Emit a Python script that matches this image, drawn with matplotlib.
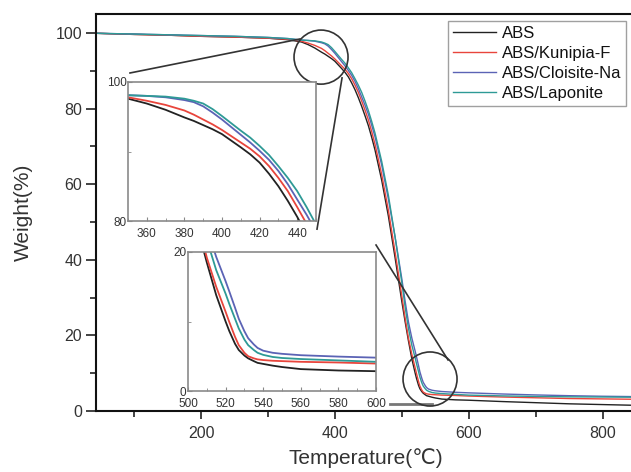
import matplotlib
matplotlib.use("Agg")
import matplotlib.pyplot as plt
from matplotlib.patches import Ellipse
from matplotlib.ticker import MultipleLocator

plt.rcParams["font.family"] = ["Liberation Sans", "DejaVu Sans"]

# TGA data: temperature (C) vs remaining weight (%)
temps = [43, 100, 150, 200, 250, 300, 330,
         350, 360, 370, 380, 385, 390, 395, 400,
         410, 415, 420, 425, 430, 435, 440, 445, 450, 455, 460,
         470, 480, 490, 500, 505, 510, 515, 520, 522, 525, 527, 530, 532, 535,
         537, 540, 545, 550, 560, 580, 600,
         650, 700, 750, 800, 850]

abs_w = [99.9, 99.6, 99.4, 99.1, 98.9, 98.6, 98.2,
         97.6, 96.9, 96.0, 94.9, 94.4, 93.8, 93.2, 92.5,
         90.6, 89.6, 88.4, 86.8, 85.0, 82.9, 80.6, 78.1, 75.5, 72.4, 69.0,
         61.0, 51.5, 40.5, 29.0, 23.6, 18.5, 13.8, 10.0, 8.6, 6.8, 5.9, 5.1,
         4.7, 4.3, 4.05, 3.9, 3.65, 3.45, 3.15, 2.95, 2.85,
         2.5, 2.2, 1.9, 1.7, 1.5]
kunipia_w = [99.9, 99.6, 99.4, 99.1, 98.9, 98.6, 98.3,
             97.8, 97.3, 96.7, 95.9, 95.3, 94.6, 93.9, 93.1,
             91.3, 90.4, 89.3, 87.9, 86.2, 84.3, 82.0, 79.6, 77.0, 73.9, 70.5,
             62.5, 53.0, 42.0, 30.5, 24.5, 19.2, 15.0, 11.4, 9.9, 7.8, 6.6,
             5.5, 5.0, 4.7, 4.55, 4.45, 4.35, 4.3, 4.2, 4.1, 3.95,
             3.7, 3.5, 3.3, 3.2, 3.1]
cloisite_w = [99.9, 99.7, 99.5, 99.3, 99.1, 98.8, 98.5,
              98.1, 98.0, 97.8, 97.4, 97.1, 96.5, 95.6, 94.6,
              92.4, 91.3, 90.1, 88.8, 87.2, 85.3, 83.1, 80.9, 78.5, 75.6, 72.5,
              65.0, 56.0, 46.0, 35.0, 29.0, 23.5, 19.3, 15.8, 14.3, 12.0, 10.4,
              8.6, 7.6, 6.7, 6.2, 5.8, 5.5, 5.35, 5.15, 4.95, 4.8,
              4.5, 4.25, 4.05, 3.9, 3.8]
laponite_w = [99.9, 99.7, 99.5, 99.3, 99.1, 98.8, 98.5,
              98.1, 98.0, 97.9, 97.6, 97.3, 96.9, 96.1, 95.1,
              93.0, 92.0, 90.8, 89.5, 87.9, 86.2, 84.3, 82.0, 79.5, 76.6, 73.5,
              66.0, 57.0, 46.0, 34.0, 27.5, 21.8, 17.4, 14.0, 12.5, 10.4, 9.0,
              7.4, 6.6, 5.9, 5.5, 5.2, 4.9, 4.75, 4.6, 4.4, 4.2,
              4.0, 3.85, 3.75, 3.7, 3.65]

labels = ["ABS", "ABS/Kunipia-F", "ABS/Cloisite-Na", "ABS/Laponite"]
colors = ["#222222", "#e8453c", "#5b63b5", "#2e9a96"]
series = [abs_w, kunipia_w, cloisite_w, laponite_w]

fig = plt.figure(figsize=(6.31, 4.72), dpi=100)
ax = fig.add_axes([96 / 631, 61 / 472, 540 / 631, 397 / 472])

for w, c, lab in zip(series, colors, labels):
    ax.plot(temps, w, color=c, lw=1.0, label=lab)

ax.set_xlim(43, 850)
ax.set_ylim(0, 105)
ax.xaxis.set_major_locator(MultipleLocator(200))
ax.xaxis.set_minor_locator(MultipleLocator(100))
ax.yaxis.set_major_locator(MultipleLocator(20))
ax.yaxis.set_minor_locator(MultipleLocator(10))
ax.tick_params(which="both", direction="out", top=False, right=False,
               colors="#222222", labelcolor="#333333", labelsize=11.5, width=1.2)
ax.tick_params(axis="x", which="major", length=6, pad=5)
ax.tick_params(axis="y", which="major", length=7, pad=3)
ax.tick_params(which="minor", length=4)
for s in ax.spines.values():
    s.set_linewidth(1.5)
    s.set_color("#111111")
ax.set_xlabel("Temperature(℃)", fontsize=15, color="#333333", labelpad=5)
ax.set_ylabel("Weight(%)", fontsize=15, color="#333333", labelpad=16)

leg = ax.legend(loc="upper right", bbox_to_anchor=(626 / 631, 1 - 21 / 472),
                bbox_transform=fig.transFigure, fontsize=12, frameon=True,
                fancybox=False, edgecolor="#888888", handlelength=2.6,
                handletextpad=0.3, labelspacing=0.3, borderpad=0.3,
                borderaxespad=0)
leg.get_frame().set_linewidth(1.0)
for t in leg.get_texts():
    t.set_color("#111111")

# zoom circles and leader lines
zoom_style = dict(color="#333333", lw=1.2, clip_on=False)
ax.add_patch(Ellipse((379.3, 93.6), 80.7, 14.3, fill=False, ec="#333333",
                     lw=1.2, clip_on=False, zorder=5))
ax.add_patch(Ellipse((542.2, 8.46), 80.7, 14.3, fill=False, ec="#333333",
                     lw=1.2, clip_on=False, zorder=5))
ax.plot([93.8, 347.9], [89.4, 98.4], **zoom_style)
ax.plot([373.3, 410.7], [48.1, 88.1], **zoom_style)
ax.plot([461.5, 569.1], [43.9, 13.5], **zoom_style)
ax.plot([482.4, 545.2], [1.85, 1.85], color="#777777", lw=2.0, clip_on=False)


def make_inset(rect, xlim, ylim):
    ins = fig.add_axes(rect)
    for w, c in zip(series, colors):
        ins.plot(temps, w, color=c, lw=1.3)
    ins.set_xlim(*xlim)
    ins.set_ylim(*ylim)
    ins.xaxis.set_major_locator(MultipleLocator(20))
    ins.xaxis.set_minor_locator(MultipleLocator(10))
    ins.yaxis.set_major_locator(MultipleLocator(ylim[1] - ylim[0]))
    ins.yaxis.set_minor_locator(MultipleLocator((ylim[1] - ylim[0]) / 2))
    ins.tick_params(which="both", direction="in", colors="#888888",
                    labelcolor="#333333", labelsize=8.5)
    ins.tick_params(axis="x", pad=5)
    ins.tick_params(axis="y", pad=1)
    ins.tick_params(which="major", length=3)
    ins.tick_params(which="minor", length=2)
    for s in ins.spines.values():
        s.set_color("#8a8a8a")
        s.set_linewidth(1.2)
    return ins


make_inset([128 / 631, 251 / 472, 188 / 631, 139 / 472], (350, 450), (80, 100))
make_inset([188 / 631, 81 / 472, 188 / 631, 139 / 472], (500, 600), (0, 20))

fig.savefig("out.png", dpi=100)
